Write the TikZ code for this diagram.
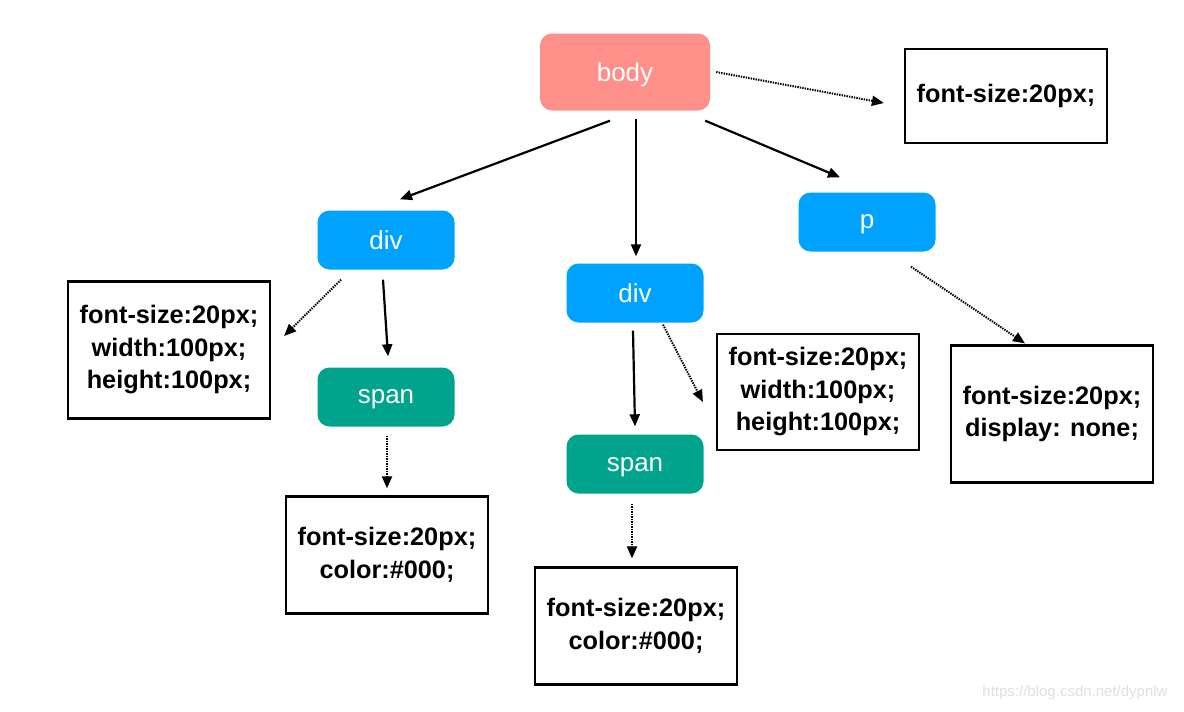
\documentclass[tikz,border=0pt]{standalone}
\usepackage{fontspec}
\setmainfont{Liberation Sans}
\usepackage{tikz}
\usetikzlibrary{positioning,arrows.meta}
\definecolor{bodyclr}{RGB}{255,143,137}
\definecolor{divclr}{RGB}{0,162,255}
\definecolor{spanclr}{RGB}{0,163,140}
\tikzset{
  tag/.style={rectangle,rounded corners=12pt,fill=divclr,text=white,
              minimum width=137pt,minimum height=59pt,inner sep=0pt,
              text depth=0pt,font=\fontsize{26}{30}\selectfont},
  bodytag/.style={tag,fill=bodyclr,minimum width=170pt,minimum height=77pt},
  spantag/.style={tag,fill=spanclr},
  cssbox/.style={rectangle,draw,line width=2.2pt,minimum width=202pt,
                 inner sep=0pt,align=center,
                 font=\bfseries\fontsize{25.3}{32.5}\selectfont},
  edge/.style={-{Triangle[length=12pt,width=10pt]},line width=2.2pt},
  dotedge/.style={edge,line width=2pt,dash pattern=on 1.4pt off 1.1pt},
}

\begin{document}
\begin{tikzpicture}[x=1pt,y=-1pt]
\useasboundingbox (0,0) rectangle (1184,712);
\node[bodytag] (body) at (625,72) {body};
\node[cssbox, minimum height=94pt] (bodycss) at (1006,96) {font-size:20px;};
\node[tag] (divl) at (386,240) {div};
\node[tag] (divm) at (635,293) {div};
\node[tag] (p) at (867,222) {p};
\node[cssbox, minimum height=137pt] (divlcss) at (169,350)
      {font-size:20px;\\width:100px;\\height:100px;};
\node[spantag] (spanl) at (386,397) {span};
\node[cssbox, minimum height=117pt] (spanlcss) at (387,555)
      {font-size:20px;\\color:\#000;};
\node[cssbox, minimum height=116pt] (divmcss) at (818,392)
      {font-size:20px;\\width:100px;\\height:100px;};
\node[spantag] (spanm) at (635,464) {span};
\node[cssbox, minimum height=117pt] (spanmcss) at (636,626)
      {font-size:20px;\\color:\#000;};
\node[cssbox, minimum height=137pt] (pcss) at (1052,414)
      {font-size:20px;\\display: none;};
\node[text=black!12, font=\fontsize{15}{18}\selectfont] (mark) at (1075,693)
      {https://blog.csdn.net/dypnlw};
% tree edges
\draw[edge] ([xshift=-15pt,yshift=-10pt]body.south)
         -- ([xshift=14pt,yshift=11pt]divl.north);
\draw[edge] ([xshift=11pt,yshift=-8pt]body.south)
         -- ([xshift=1pt,yshift=7pt]divm.north);
\draw[edge] ([xshift=-5pt,yshift=-10pt]body.south east)
         -- ([xshift=-27pt,yshift=15pt]p.north);
\draw[edge] ([xshift=-3pt,yshift=-10pt]divl.south)
         -- ([xshift=2pt,yshift=11pt]spanl.north);
\draw[edge] ([xshift=-2pt,yshift=-8pt]divm.south)
         -- ([yshift=8pt]spanm.north);
% style edges
\draw[dotedge] ([xshift=6pt]body.east)
         -- ([xshift=-20pt,yshift=-7pt]bodycss.west);
\draw[dotedge] ([xshift=-45pt,yshift=-10pt]divl.south)
         -- ([xshift=13pt,yshift=14pt]divlcss.east);
\draw[dotedge] ([xshift=1pt,yshift=-9pt]spanl.south)
         -- ([yshift=7pt]spanlcss.north);
\draw[dotedge] ([xshift=28pt,yshift=-2pt]divm.south)
         -- ([xshift=-13pt,yshift=-10pt]divmcss.west);
\draw[dotedge] ([xshift=-3pt,yshift=-10pt]spanm.south)
         -- ([xshift=-4pt,yshift=8pt]spanmcss.north);
\draw[dotedge] ([xshift=44pt,yshift=-15pt]p.south)
         -- ([xshift=-27pt,yshift=1pt]pcss.north);
\end{tikzpicture}
\end{document}
